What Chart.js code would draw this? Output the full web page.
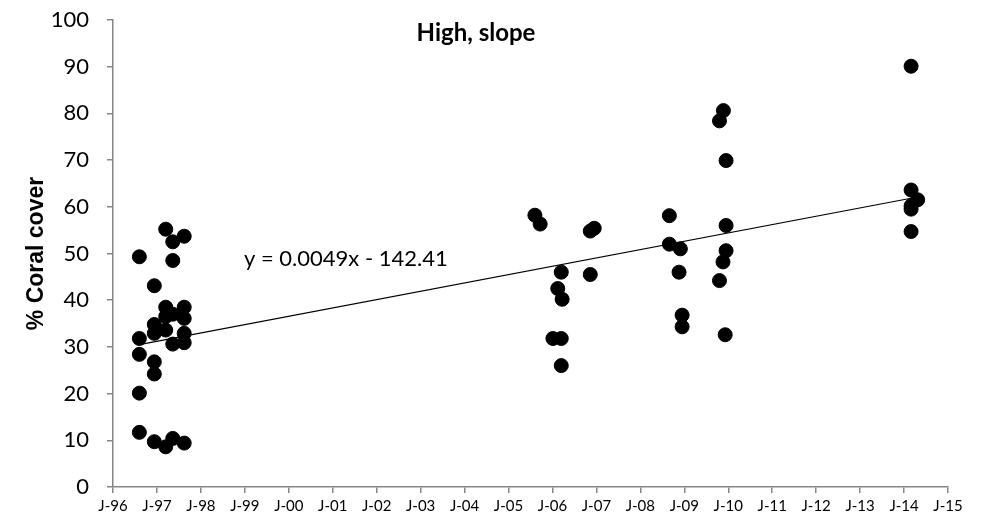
<!DOCTYPE html>
<html>
<head>
<meta charset="utf-8">
<script src="https://cdn.jsdelivr.net/npm/chart.js@4/dist/chart.umd.min.js"></script>
<style>
  html, body { margin: 0; padding: 0; background: #fff; }
  #wrap { width: 985px; height: 526px; }
</style>
</head>
<body>
<div id="wrap"><canvas id="c" width="985" height="526"></canvas></div>
<script>
// ---------- DATA ----------
// survey dates as decimal years, coral cover in %
const surveyDates = [
  1996.60, 1996.60, 1996.60, 1996.60, 1996.60,
  1996.94, 1996.94, 1996.94, 1996.94, 1996.94, 1996.94,
  1997.20, 1997.20, 1997.20, 1997.20, 1997.20,
  1997.36, 1997.36, 1997.36, 1997.36, 1997.36,
  1997.62, 1997.62, 1997.62, 1997.62, 1997.62, 1997.62,
  2005.60, 2005.72,
  2006.01, 2006.12, 2006.20, 2006.20, 2006.20, 2006.22,
  2006.86, 2006.86, 2006.95,
  2008.66, 2008.66, 2008.88, 2008.91, 2008.95, 2008.95,
  2009.80, 2009.80, 2009.88, 2009.89, 2009.95, 2009.95, 2009.95, 2009.93,
  2014.16, 2014.16, 2014.16, 2014.16, 2014.16, 2014.31
];
const coralCover = [
  49.3, 31.8, 28.4, 20.1, 11.7,
  43.1, 34.8, 32.9, 26.8, 24.2, 9.7,
  55.2, 38.5, 36.5, 33.6, 8.6,
  52.5, 48.5, 37.0, 30.6, 10.4,
  53.7, 38.5, 36.1, 32.9, 30.9, 9.4,
  58.2, 56.3,
  31.8, 42.5, 46.0, 31.8, 26.0, 40.2,
  54.8, 45.5, 55.4,
  58.1, 52.0, 46.0, 51.0, 36.8, 34.3,
  78.4, 44.2, 48.2, 80.6, 69.9, 56.0, 50.6, 32.6,
  90.1, 63.6, 59.5, 60.2, 54.7, 61.5
];

// linear trend, end points as drawn
const trendDates  = [1996.60, 2014.31];
const trendValues = [30.5, 62.1];
const trendLabel  = "y = 0.0049x - 142.41";

const xTickLabels = ["J-96","J-97","J-98","J-99","J-00","J-01","J-02","J-03","J-04","J-05",
                     "J-06","J-07","J-08","J-09","J-10","J-11","J-12","J-13","J-14","J-15"];
const yTicks = [0, 10, 20, 30, 40, 50, 60, 70, 80, 90, 100];
const chartTitle = "High, slope";
const yTitle = "% Coral cover";

const FIRST_YEAR = 1996;
const AXIS_GREY = "#868686";

// ---------- CHART ----------
const points = surveyDates.map((d, i) => ({ x: d, y: coralCover[i] }));
const trend  = trendDates.map((d, i) => ({ x: d, y: trendValues[i] }));

// title + equation drawn inside the plot area
const annotations = {
  id: "annotations",
  afterDatasetsDraw(chart) {
    const { ctx, chartArea, scales } = chart;
    ctx.save();
    ctx.fillStyle = "#000";
    ctx.textBaseline = "middle";

    ctx.font = "bold 24px Lato";
    ctx.textAlign = "center";
    ctx.fillText(chartTitle, scales.x.getPixelForValue(2004.26), chartArea.top + 13);

    ctx.font = "22px Lato";
    ctx.textAlign = "left";
    ctx.fillText(trendLabel, scales.x.getPixelForValue(1998.98), scales.y.getPixelForValue(48.8));
    ctx.restore();
  }
};

new Chart(document.getElementById("c"), {
  type: "scatter",
  data: {
    datasets: [
      {
        label: "Coral cover",
        data: points,
        backgroundColor: "#000",
        borderColor: "#000",
        pointRadius: 7,
        pointHoverRadius: 7,
        order: 2
      },
      {
        label: "Linear trend",
        type: "line",
        data: trend,
        borderColor: "#000",
        borderWidth: 1.2,
        pointRadius: 0,
        fill: false,
        order: 1
      }
    ]
  },
  options: {
    responsive: false,
    animation: false,
    events: [],
    layout: { padding: { left: 0, right: 37, top: 20, bottom: 0 } },
    plugins: {
      legend: { display: false },
      tooltip: { enabled: false }
    },
    scales: {
      x: {
        type: "linear",
        min: FIRST_YEAR,
        max: FIRST_YEAR + xTickLabels.length - 1,
        afterBuildTicks(scale) {
          scale.ticks = xTickLabels.map((_, i) => ({ value: FIRST_YEAR + i }));
        },
        afterFit(scale) {
          scale.height = 39;
          scale.paddingLeft = 0;
          scale.paddingRight = 0;
        },
        border: { color: AXIS_GREY, width: 1.5 },
        grid: { drawOnChartArea: false, color: AXIS_GREY, tickLength: 6, lineWidth: 1.5 },
        ticks: {
          color: "#000",
          font: { family: "Lato", size: 15 },
          padding: 4,
          maxRotation: 0,
          autoSkip: false,
          callback: (v) => xTickLabels[Math.round(v - FIRST_YEAR)]
        }
      },
      y: {
        min: 0,
        max: 100,
        afterBuildTicks(scale) {
          scale.ticks = yTicks.map(v => ({ value: v }));
        },
        afterFit(scale) {
          scale.width = 113;
          // keep the plot top fixed by layout.padding only
          scale.paddingTop = 0;
          scale.paddingBottom = 0;
        },
        border: { color: AXIS_GREY, width: 1.5 },
        grid: { drawOnChartArea: false, color: AXIS_GREY, tickLength: 6, lineWidth: 1.5 },
        ticks: {
          color: "#000",
          font: { family: "Lato", size: 22 },
          padding: 18
        },
        title: {
          display: true,
          text: yTitle,
          color: "#000",
          font: { family: "Liberation Sans", size: 23, weight: "bold" },
          padding: { top: 23, bottom: 0 }
        }
      }
    }
  },
  plugins: [annotations]
});
</script>
</body>
</html>
